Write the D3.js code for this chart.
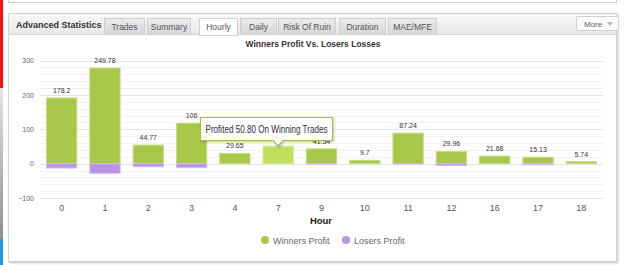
<!DOCTYPE html>
<html>
<head>
<meta charset="utf-8">
<script src="https://cdn.jsdelivr.net/npm/d3@7"></script>
<style>
  body { margin: 0; background: #fff; }
  svg text { font-family: "Liberation Sans", Arial, sans-serif; }
</style>
</head>
<body>
<div id="chart"></div>
<script>
// Chart data
const hours = ['0', '1', '2', '3', '4', '7', '9', '10', '11', '12', '16', '17', '18']
const winners = [191, 278, 53.9, 117.5, 29.65, 50.8, 43, 9.7, 88.5, 35.5, 21.68, 18.6, 5.74]
const losers = [-12.8, -28.2, -9.1, -11.5, 0, 0, -1.5, 0, -1.3, -5.5, 0, -3.5, 0]
const netLabels = ['178.2', '249.78', '44.77', '106', '29.65', '50.8', '41.54', '9.7', '87.24', '29.96', '21.68', '15.13', '5.74']
const yTicks = [-100, 0, 100, 200, 300]
const tabs = ['Trades', 'Summary', 'Hourly', 'Daily', 'Risk Of Ruin', 'Duration', 'MAE/MFE']
const activeTab = 'Hourly'
const hoverIndex = 5

const width = 625, height = 265
const margin = {left: 40, right: 22, top: 60.5, bottom: 67}

const svg = d3.select('#chart').append('svg')
  .attr('width', width)
  .attr('height', height)

const defs = svg.append('defs')
const gHead = defs.append('linearGradient').attr('id', 'gHead').attr('x1', 0).attr('x2', 0).attr('y1', 0).attr('y2', 1)
gHead.append('stop').attr('offset', 0).attr('stop-color', '#f8f8f8')
gHead.append('stop').attr('offset', 1).attr('stop-color', '#e9e9e9')
const gTab = defs.append('linearGradient').attr('id', 'gTab').attr('x1', 0).attr('x2', 0).attr('y1', 0).attr('y2', 1)
gTab.append('stop').attr('offset', 0).attr('stop-color', '#ececec')
gTab.append('stop').attr('offset', 1).attr('stop-color', '#d6d6d6')
const gSide = defs.append('linearGradient').attr('id', 'gSide').attr('x1', 0).attr('x2', 0).attr('y1', 0).attr('y2', 1)
gSide.append('stop').attr('offset', 0).attr('stop-color', '#e4e4e4')
gSide.append('stop').attr('offset', 1).attr('stop-color', '#8f8f8f')
const shadow = defs.append('filter').attr('id', 'shadow').attr('x', -0.1).attr('y', -0.1).attr('width', 1.3).attr('height', 1.4)
shadow.append('feDropShadow').attr('dx', 1).attr('dy', 1).attr('stdDeviation', 1).attr('flood-color', '#000').attr('flood-opacity', 0.25)

// Left side strip of the page
svg.append('rect').attr('x', 0).attr('y', 0).attr('width', 3).attr('height', 88).attr('fill', '#ff1010')
svg.append('rect').attr('x', 0).attr('y', 88).attr('width', 3).attr('height', 151).attr('fill', 'url(#gSide)')
svg.append('rect').attr('x', 0).attr('y', 239).attr('width', 3).attr('height', 26).attr('fill', '#2196f3')

// Bottom of the panel above
svg.append('rect').attr('x', 8.5).attr('y', -10).attr('width', 608).attr('height', 12.5)
  .attr('fill', '#fff').attr('stroke', '#d0d0d0')

// Panel
svg.append('rect').attr('x', 8.5).attr('y', 13.5).attr('width', 608).attr('height', 248)
  .attr('fill', '#fff').attr('stroke', '#d3d3d3').attr('filter', 'url(#shadow)')
svg.append('rect').attr('x', 9).attr('y', 14).attr('width', 607).attr('height', 20)
  .attr('fill', 'url(#gHead)')
svg.append('line').attr('x1', 9).attr('x2', 616).attr('y1', 34.5).attr('y2', 34.5).attr('stroke', '#d6d6d6')

svg.append('text').attr('x', 16).attr('y', 27.5)
  .style('font-size', '9px').style('font-weight', 'bold').attr('fill', '#333')
  .text('Advanced Statistics')

// Tabs
const tabX = [104, 147, 199, 240, 278, 339, 388]
const tabW = [40, 43, 38, 36, 57, 46, 48]
tabs.forEach((t, i) => {
  const active = t === activeTab
  svg.append('rect')
    .attr('x', tabX[i] + 0.5).attr('y', 18.5).attr('width', tabW[i]).attr('height', active ? 17 : 16)
    .attr('fill', active ? '#fff' : 'url(#gTab)')
    .attr('stroke', '#cfcfcf')
  svg.append('text')
    .attr('x', tabX[i] + tabW[i] / 2 + 0.5).attr('y', 29.5)
    .attr('text-anchor', 'middle')
    .style('font-size', '8.5px').attr('fill', '#555')
    .text(t)
})
if (tabs.includes(activeTab)) {
  const i = tabs.indexOf(activeTab)
  svg.append('line').attr('x1', tabX[i] + 1).attr('x2', tabX[i] + tabW[i]).attr('y1', 34.5).attr('y2', 34.5).attr('stroke', '#fff')
}

// More button
svg.append('rect').attr('x', 576.5).attr('y', 16.5).attr('width', 42).attr('height', 14).attr('rx', 1)
  .attr('fill', '#fbfbfb').attr('stroke', '#d0d0d0')
svg.append('text').attr('x', 584).attr('y', 26.5).style('font-size', '8px').attr('fill', '#666').text('More')
svg.append('path').attr('d', 'M607,22 L613,22 L610,26 Z').attr('fill', '#bbb')

// Chart title
svg.append('text').attr('x', 313).attr('y', 47).attr('text-anchor', 'middle')
  .style('font-size', '8.5px').style('font-weight', 'bold').attr('fill', '#333')
  .text('Winners Profit Vs. Losers Losses')

// Scales
const xScale = d3.scaleBand().domain(hours).range([margin.left, width - margin.right])
  .paddingInner(0.3).paddingOuter(0.15)
const yScale = d3.scaleLinear().domain([-100, 300]).range([height - margin.bottom, margin.top])

// Grid lines (minor then major)
const gGrid = svg.append('g')
gGrid.selectAll('.minor')
  .data(d3.range(-100, 301, 20).filter(v => v % 100 !== 0))
  .join('line')
  .attr('class', 'minor')
  .attr('x1', margin.left).attr('x2', width - margin.right)
  .attr('y1', d => Math.round(yScale(d)) + 0.5).attr('y2', d => Math.round(yScale(d)) + 0.5)
  .attr('stroke', '#f3f3f3')
gGrid.selectAll('.major')
  .data(yTicks)
  .join('line')
  .attr('class', 'major')
  .attr('x1', margin.left).attr('x2', width - margin.right)
  .attr('y1', d => Math.round(yScale(d)) + 0.5).attr('y2', d => Math.round(yScale(d)) + 0.5)
  .attr('stroke', '#e4e4e4')

// Y axis
const lAxis = svg.append('g')
  .attr('transform', `translate(${margin.left - 4},0)`)
  .call(d3.axisLeft(yScale).tickValues(yTicks).tickSize(0).tickPadding(2))
lAxis.select('.domain').remove()
lAxis.selectAll('text').style('font-size', '7px').attr('fill', '#666')
  .style('font-family', '"Liberation Sans", Arial, sans-serif')

// X axis
const bAxis = svg.append('g')
  .attr('transform', `translate(0,${yScale(-100) + 4})`)
  .call(d3.axisBottom(xScale).tickSize(0).tickPadding(3))
bAxis.select('.domain').remove()
bAxis.selectAll('text').style('font-size', '9px').attr('fill', '#555')
  .style('font-family', '"Liberation Sans", Arial, sans-serif')

svg.append('text').attr('x', 321).attr('y', 224).attr('text-anchor', 'middle')
  .style('font-size', '9.5px').style('font-weight', 'bold').attr('fill', '#222')
  .text('Hour')

// Bars
const gBars = svg.append('g')
gBars.selectAll('.win')
  .data(winners)
  .join('rect')
  .attr('class', 'win')
  .attr('x', (d, i) => xScale(hours[i]))
  .attr('width', xScale.bandwidth())
  .attr('y', d => yScale(d))
  .attr('height', d => yScale(0) - yScale(d))
  .attr('fill', (d, i) => i === hoverIndex ? '#bfdf5e' : '#a9c84a')
  .attr('stroke', (d, i) => i === hoverIndex ? '#d4ec8e' : '#c4dd84')
  .attr('stroke-width', 1)
gBars.selectAll('.lose')
  .data(losers)
  .join('rect')
  .attr('class', 'lose')
  .attr('x', (d, i) => xScale(hours[i]))
  .attr('width', xScale.bandwidth())
  .attr('y', yScale(0))
  .attr('height', d => yScale(d) - yScale(0))
  .attr('fill', '#b994e2')
  .attr('stroke', d => d < 0 ? '#d3bdf0' : 'none')
  .attr('stroke-width', 1)

// Data labels (net values)
gBars.selectAll('.lbl')
  .data(netLabels)
  .join('text')
  .attr('class', 'lbl')
  .attr('x', (d, i) => xScale(hours[i]) + xScale.bandwidth() / 2)
  .attr('y', (d, i) => yScale(winners[i]) - 5)
  .attr('text-anchor', 'middle')
  .style('font-size', '7px')
  .attr('fill', '#333')
  .text(d => d)

// Tooltip
const tx = xScale(hours[hoverIndex]) + xScale.bandwidth() / 2
const tip = svg.append('g')
tip.append('path')
  .attr('d', `M200.5,117.5 H332.5 V140.5 H${tx + 5} L${tx},146 L${tx - 5},140.5 H200.5 Z`)
  .attr('fill', '#fff').attr('fill-opacity', 0.92)
  .attr('stroke', '#a3bf4a').attr('stroke-width', 1.2)
  .attr('filter', 'url(#shadow)')
tip.append('text').attr('x', 266.5).attr('y', 133)
  .attr('text-anchor', 'middle')
  .attr('textLength', 122).attr('lengthAdjust', 'spacingAndGlyphs')
  .style('font-size', '10.5px').attr('fill', '#333')
  .text('Profited 50.80 On Winning Trades')

// Legend
const legend = [
  {name: 'Winners Profit', color: '#a9c84a', x: 265},
  {name: 'Losers Profit', color: '#b994e2', x: 346}
]
const gLeg = svg.append('g')
gLeg.selectAll('circle').data(legend).join('circle')
  .attr('cx', d => d.x).attr('cy', 240).attr('r', 4).attr('fill', d => d.color)
gLeg.selectAll('text').data(legend).join('text')
  .attr('x', d => d.x + 8).attr('y', 243.5)
  .style('font-size', '9px').attr('fill', '#666')
  .text(d => d.name)
</script>
</body>
</html>
